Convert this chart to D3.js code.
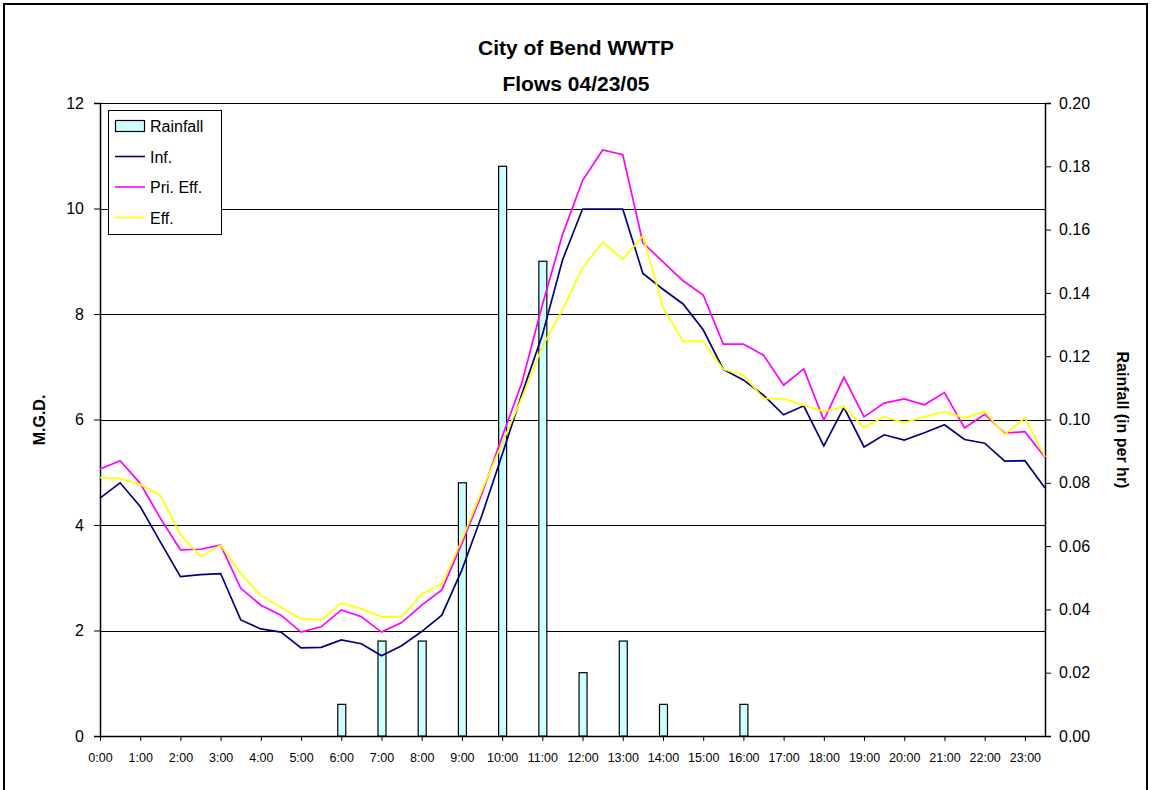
<!DOCTYPE html>
<html>
<head>
<meta charset="utf-8">
<script src="https://cdn.jsdelivr.net/npm/d3@7"></script>
<style>
  html, body { margin: 0; padding: 0; background: #fff; }
  svg { display: block; font-family: Arial, "Liberation Sans", sans-serif; }
</style>
</head>
<body>
<svg id="chart" width="1151" height="790"></svg>
<script>
// ---- Data ----
const times = [];
for (let h = 0; h < 24; h++) { times.push(h + ":00"); times.push(h + ":30"); }

const inf = [4.51, 4.80, 4.35, 3.68, 3.02, 3.06, 3.08, 2.20, 2.03, 1.97, 1.67, 1.68,
             1.82, 1.75, 1.52, 1.71, 1.98, 2.29, 3.15, 4.19, 5.33, 6.50, 7.60, 9.02,
             9.99, 9.99, 9.99, 8.77, 8.47, 8.19, 7.70, 6.95, 6.75, 6.46, 6.09, 6.26,
             5.50, 6.23, 5.48, 5.71, 5.61, 5.75, 5.90, 5.62, 5.55, 5.21, 5.22, 4.70];

const priEff = [5.06, 5.22, 4.79, 4.13, 3.53, 3.54, 3.62, 2.80, 2.48, 2.29, 1.97, 2.07,
                2.39, 2.26, 1.97, 2.15, 2.48, 2.77, 3.65, 4.60, 5.67, 6.72, 8.17, 9.50,
                10.53, 11.11, 11.02, 9.35, 8.99, 8.63, 8.36, 7.43, 7.43, 7.22, 6.65, 6.96,
                5.99, 6.80, 6.05, 6.31, 6.39, 6.28, 6.51, 5.84, 6.10, 5.74, 5.77, 5.28];

const eff = [4.90, 4.88, 4.77, 4.56, 3.82, 3.40, 3.62, 3.08, 2.66, 2.44, 2.22, 2.20,
             2.52, 2.41, 2.26, 2.26, 2.69, 2.88, 3.72, 4.66, 5.55, 6.43, 7.38, 8.08,
             8.88, 9.36, 9.04, 9.48, 8.13, 7.48, 7.48, 6.95, 6.84, 6.40, 6.39, 6.27,
             6.15, 6.24, 5.85, 6.05, 5.94, 6.05, 6.15, 6.03, 6.15, 5.72, 6.03, 5.29];

const rainTimes  = ["6:00", "7:00", "8:00", "9:00", "10:00", "11:00", "12:00", "13:00", "14:00", "16:00"];
const rainValues = [0.01, 0.03, 0.03, 0.08, 0.18, 0.15, 0.02, 0.03, 0.01, 0.01];

const leftTicks  = [0, 2, 4, 6, 8, 10, 12];
const rightTicks = [0, 0.02, 0.04, 0.06, 0.08, 0.10, 0.12, 0.14, 0.16, 0.18, 0.20];
const hourLabels = times.filter((t, i) => i % 2 === 0);

const seriesNames  = ["Rainfall", "Inf.", "Pri. Eff.", "Eff."];
const seriesColors = { "Inf.": "#000080", "Pri. Eff.": "#FF00FF", "Eff.": "#FFFF00" };

// ---- Layout ----
const svg = d3.select("#chart");
const L = 100, R = 1045, T = 103, B = 736;

const x = d3.scalePoint().domain(times).range([L, R]);
const yL = d3.scaleLinear().domain([0, 12]).range([B, T]);
const yR = d3.scaleLinear().domain([0, 0.2]).range([B, T]);

// outer frame
svg.append("rect").attr("x", 4).attr("y", 4).attr("width", 1143).attr("height", 820)
  .attr("fill", "none").attr("stroke", "#000").attr("stroke-width", 2);

// title
svg.append("text").attr("x", 576).attr("y", 55).attr("text-anchor", "middle")
  .attr("font-size", 21).attr("font-weight", "bold").text("City of Bend WWTP");
svg.append("text").attr("x", 576).attr("y", 91).attr("text-anchor", "middle")
  .attr("font-size", 21).attr("font-weight", "bold").text("Flows 04/23/05");

// gridlines
svg.append("g").selectAll("line").data(leftTicks.filter(d => d > 0)).join("line")
  .attr("x1", L).attr("x2", R)
  .attr("y1", d => Math.round(yL(d)) + 0.5).attr("y2", d => Math.round(yL(d)) + 0.5)
  .attr("stroke", "#000").attr("stroke-width", 1);

// left axis
const gL = svg.append("g").attr("transform", `translate(${L},0)`)
  .call(d3.axisLeft(yL).tickValues(leftTicks).tickFormat(d3.format("d")).tickSize(6).tickPadding(10));
gL.selectAll("text").attr("font-size", 16).attr("font-family", "Arial, 'Liberation Sans', sans-serif").attr("fill", "#000");
gL.select(".domain").attr("stroke", "#000").attr("stroke-width", 1.5);

// right axis
const gR = svg.append("g").attr("transform", `translate(${R},0)`)
  .call(d3.axisRight(yR).tickValues(rightTicks).tickFormat(d3.format(".2f")).tickSize(6).tickPadding(8));
gR.selectAll("text").attr("font-size", 16).attr("font-family", "Arial, 'Liberation Sans', sans-serif").attr("fill", "#000");
gR.select(".domain").attr("stroke", "#000").attr("stroke-width", 1.5);

// bottom axis
const gB = svg.append("g").attr("transform", `translate(0,${B})`)
  .call(d3.axisBottom(x).tickValues(hourLabels).tickSize(5).tickPadding(12).tickSizeOuter(0));
gB.selectAll("text").attr("font-size", 12.5).attr("font-family", "Arial, 'Liberation Sans', sans-serif").attr("fill", "#000");
gB.select(".domain").attr("stroke", "#000").attr("stroke-width", 1.5);

// axis titles
svg.append("text").attr("transform", "translate(45,420) rotate(-90)").attr("text-anchor", "middle")
  .attr("font-size", 16).attr("font-weight", "bold").text("M.G.D.");
svg.append("text").attr("transform", "translate(1117,420) rotate(90)").attr("text-anchor", "middle")
  .attr("font-size", 16).attr("font-weight", "bold").text("Rainfall (in per hr)");

// bars
const bw = 8;
svg.append("g").selectAll("rect").data(rainTimes.map((t, i) => ({ t, v: rainValues[i] }))).join("rect")
  .attr("x", d => x(d.t) - bw / 2 + 0.5)
  .attr("y", d => yR(d.v))
  .attr("width", bw)
  .attr("height", d => B - yR(d.v))
  .attr("fill", "#CCFFFF").attr("stroke", "#000").attr("stroke-width", 1.2);

// lines
const line = d3.line().x((d, i) => x(times[i])).y(d => yL(d));
[["Inf.", inf], ["Pri. Eff.", priEff], ["Eff.", eff]].forEach(([name, vals]) => {
  svg.append("path").datum(vals).attr("d", line)
    .attr("fill", "none").attr("stroke", seriesColors[name]).attr("stroke-width", 1.7)
    .attr("stroke-linejoin", "miter");
});

// legend
const lg = svg.append("g");
lg.append("rect").attr("x", 108.5).attr("y", 110.5).attr("width", 113).attr("height", 124)
  .attr("fill", "#fff").attr("stroke", "#000").attr("stroke-width", 1);
seriesNames.forEach((name, i) => {
  const cy = 126 + i * 30.5;
  if (name === "Rainfall") {
    lg.append("rect").attr("x", 115.5).attr("y", cy - 5.5).attr("width", 29).attr("height", 11)
      .attr("fill", "#CCFFFF").attr("stroke", "#000").attr("stroke-width", 1.2);
  } else {
    lg.append("line").attr("x1", 115).attr("x2", 145).attr("y1", cy).attr("y2", cy)
      .attr("stroke", seriesColors[name]).attr("stroke-width", 1.6);
  }
  lg.append("text").attr("x", 150).attr("y", cy + 6).attr("font-size", 16).text(name);
});
</script>
</body>
</html>
